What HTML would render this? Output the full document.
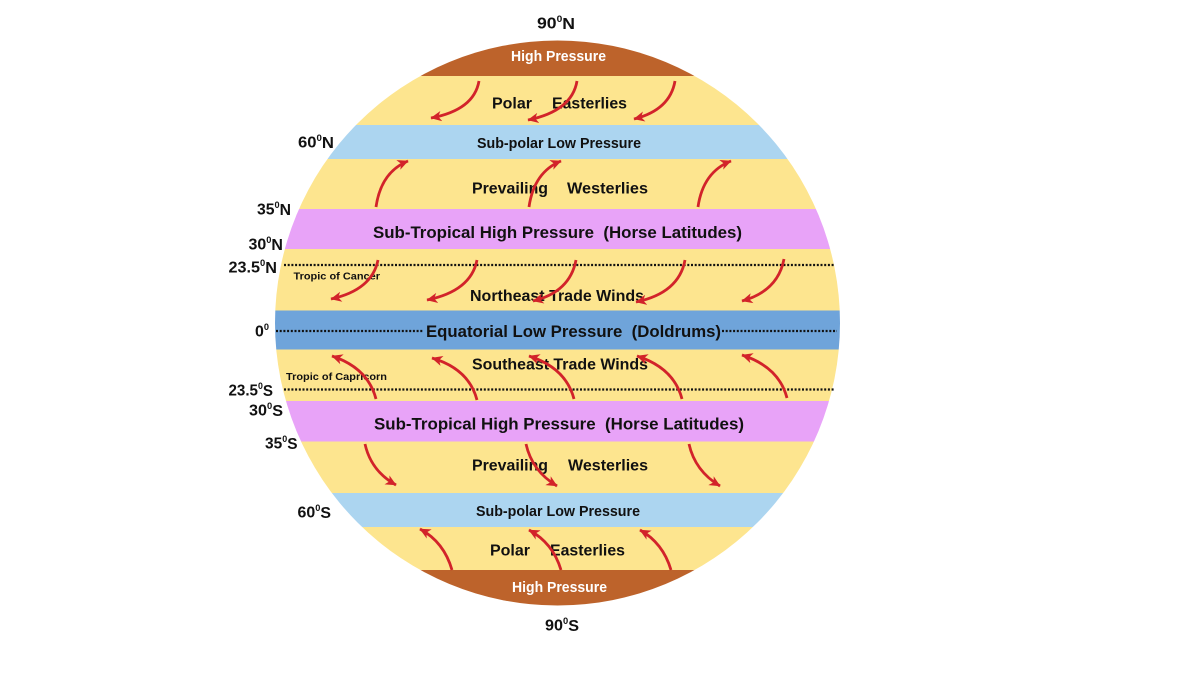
<!DOCTYPE html>
<html>
<head>
<meta charset="utf-8">
<style>
  html, body { margin: 0; padding: 0; background: #ffffff; }
  svg { display: block; }
  text { font-family: "Liberation Sans", "DejaVu Sans", sans-serif; font-weight: bold; }
</style>
</head>
<body>
<svg width="1200" height="675" viewBox="0 0 1200 675" xmlns="http://www.w3.org/2000/svg">
  <defs>
    <clipPath id="globe">
      <circle cx="557.5" cy="323" r="282.5"/>
    </clipPath>
    <marker id="ah" markerUnits="userSpaceOnUse" markerWidth="11" markerHeight="11" viewBox="0 0 10 10" refX="9.5" refY="5" orient="auto">
      <path d="M0,0.3 L10,5 L0,9.7 L2.8,5 z" fill="#d2232a"/>
    </marker>
  </defs>

  <rect x="0" y="0" width="1200" height="675" fill="#ffffff"/>

  <!-- Bands -->
  <g clip-path="url(#globe)">
    <rect x="270" y="30" width="580" height="46" fill="#bd632b"/>
    <rect x="270" y="76" width="580" height="49" fill="#fde58f"/>
    <rect x="270" y="125" width="580" height="34" fill="#acd5f0"/>
    <rect x="270" y="159" width="580" height="50" fill="#fde58f"/>
    <rect x="270" y="209" width="580" height="40" fill="#e8a3f8"/>
    <rect x="270" y="249" width="580" height="61.5" fill="#fde58f"/>
    <rect x="270" y="310.5" width="580" height="39" fill="#6fa4da"/>
    <rect x="270" y="349.5" width="580" height="51.5" fill="#fde58f"/>
    <rect x="270" y="401" width="580" height="40.5" fill="#e8a3f8"/>
    <rect x="270" y="441.5" width="580" height="51.5" fill="#fde58f"/>
    <rect x="270" y="493" width="580" height="34" fill="#acd5f0"/>
    <rect x="270" y="527" width="580" height="43" fill="#fde58f"/>
    <rect x="270" y="570" width="580" height="45" fill="#bd632b"/>
  </g>

  <!-- Dotted lines -->
  <g stroke="#111111" stroke-width="2.2" stroke-dasharray="2 1.7" fill="none">
    <line x1="284" y1="265" x2="834" y2="265"/>
    <line x1="276" y1="331" x2="424" y2="331"/>
    <line x1="722" y1="331" x2="837" y2="331"/>
    <line x1="284" y1="389.5" x2="835" y2="389.5"/>
  </g>

  <!-- Band labels -->
  <g dominant-baseline="central" fill="#111111">
    <text x="511" y="57" font-size="14.5" fill="#ffffff" textLength="95" lengthAdjust="spacingAndGlyphs">High Pressure</text>
    <text x="492" y="104" font-size="16" textLength="40" lengthAdjust="spacingAndGlyphs">Polar</text>
    <text x="552" y="104" font-size="16" textLength="75" lengthAdjust="spacingAndGlyphs">Easterlies</text>
    <text x="477" y="144" font-size="14.3" textLength="164" lengthAdjust="spacingAndGlyphs">Sub-polar Low Pressure</text>
    <text x="472" y="189" font-size="16" textLength="76" lengthAdjust="spacingAndGlyphs">Prevailing</text>
    <text x="567" y="189" font-size="16" textLength="81" lengthAdjust="spacingAndGlyphs">Westerlies</text>
    <text x="373" y="232.5" font-size="16.8" textLength="369" lengthAdjust="spacingAndGlyphs" xml:space="preserve">Sub-Tropical High Pressure  (Horse Latitudes)</text>
    <text x="293.5" y="277" font-size="10" textLength="86.5" lengthAdjust="spacingAndGlyphs">Tropic of Cancer</text>
    <text x="470" y="296.5" font-size="16" textLength="174" lengthAdjust="spacingAndGlyphs">Northeast Trade Winds</text>
    <text x="426" y="331.5" font-size="16.8" textLength="295" lengthAdjust="spacingAndGlyphs" xml:space="preserve">Equatorial Low Pressure  (Doldrums)</text>
    <text x="472" y="365" font-size="16" textLength="176" lengthAdjust="spacingAndGlyphs">Southeast Trade Winds</text>
    <text x="286" y="377" font-size="10.5" textLength="101" lengthAdjust="spacingAndGlyphs">Tropic of Capricorn</text>
    <text x="374" y="424" font-size="16.8" textLength="370" lengthAdjust="spacingAndGlyphs" xml:space="preserve">Sub-Tropical High Pressure  (Horse Latitudes)</text>
    <text x="472" y="466" font-size="16" textLength="76" lengthAdjust="spacingAndGlyphs">Prevailing</text>
    <text x="568" y="466" font-size="16" textLength="80" lengthAdjust="spacingAndGlyphs">Westerlies</text>
    <text x="476" y="512" font-size="14.3" textLength="164" lengthAdjust="spacingAndGlyphs">Sub-polar Low Pressure</text>
    <text x="490" y="551" font-size="16" textLength="40" lengthAdjust="spacingAndGlyphs">Polar</text>
    <text x="550" y="551" font-size="16" textLength="75" lengthAdjust="spacingAndGlyphs">Easterlies</text>
    <text x="512" y="588" font-size="14.5" fill="#ffffff" textLength="95" lengthAdjust="spacingAndGlyphs">High Pressure</text>
  </g>

  <!-- Latitude labels -->
  <g dominant-baseline="central" fill="#111111" font-size="15.5">
    <text x="537" y="24" textLength="38" lengthAdjust="spacingAndGlyphs">90<tspan font-size="9" dy="-5">0</tspan><tspan dy="5">N</tspan></text>
    <text x="298" y="143" textLength="36" lengthAdjust="spacingAndGlyphs">60<tspan font-size="9" dy="-5">0</tspan><tspan dy="5">N</tspan></text>
    <text x="257" y="210" textLength="34" lengthAdjust="spacingAndGlyphs">35<tspan font-size="9" dy="-5">0</tspan><tspan dy="5">N</tspan></text>
    <text x="248.5" y="245" textLength="34.5" lengthAdjust="spacingAndGlyphs">30<tspan font-size="9" dy="-5">0</tspan><tspan dy="5">N</tspan></text>
    <text x="228.5" y="268" textLength="48.5" lengthAdjust="spacingAndGlyphs">23.5<tspan font-size="9" dy="-5">0</tspan><tspan dy="5">N</tspan></text>
    <text x="255" y="332" textLength="14" lengthAdjust="spacingAndGlyphs">0<tspan font-size="9" dy="-5">0</tspan></text>
    <text x="228.5" y="391" textLength="44.5" lengthAdjust="spacingAndGlyphs">23.5<tspan font-size="9" dy="-5">0</tspan><tspan dy="5">S</tspan></text>
    <text x="249" y="411" textLength="34" lengthAdjust="spacingAndGlyphs">30<tspan font-size="9" dy="-5">0</tspan><tspan dy="5">S</tspan></text>
    <text x="265" y="444" textLength="32.5" lengthAdjust="spacingAndGlyphs">35<tspan font-size="9" dy="-5">0</tspan><tspan dy="5">S</tspan></text>
    <text x="297.5" y="513" textLength="33.5" lengthAdjust="spacingAndGlyphs">60<tspan font-size="9" dy="-5">0</tspan><tspan dy="5">S</tspan></text>
    <text x="545" y="626" textLength="34" lengthAdjust="spacingAndGlyphs">90<tspan font-size="9" dy="-5">0</tspan><tspan dy="5">S</tspan></text>
  </g>

  <!-- Arrows -->
  <g stroke="#d2232a" stroke-width="2.8" fill="none" marker-end="url(#ah)" stroke-linecap="butt">
    <!-- North polar easterlies -->
    <path d="M479,81 Q474,110 431,118"/>
    <path d="M577,81 Q572,111 528,120"/>
    <path d="M675,81 Q670,110 634,119"/>
    <!-- North westerlies -->
    <path d="M376,207 Q381,172 408,161"/>
    <path d="M529,207 Q534,172 561,161"/>
    <path d="M698,207 Q703,172 731,161"/>
    <!-- NE trades -->
    <path d="M378,260 Q372,290 331,299"/>
    <path d="M477,260 Q471,291 427,300"/>
    <path d="M576,260 Q570,292 533,301"/>
    <path d="M685,260 Q679,293 636,302"/>
    <path d="M784,259 Q778,291 742,301"/>
    <!-- SE trades -->
    <path d="M376,399 Q368,368 332,356"/>
    <path d="M477,400 Q469,369 432,358"/>
    <path d="M574,399 Q566,368 529,356"/>
    <path d="M682,399 Q674,368 637,356"/>
    <path d="M787,398 Q779,367 742,355"/>
    <!-- South westerlies -->
    <path d="M365,444 Q371,471 396,485"/>
    <path d="M526,444 Q532,471 557,486"/>
    <path d="M689,444 Q695,471 720,486"/>
    <!-- South polar easterlies -->
    <path d="M452,570 Q444,542 420,529"/>
    <path d="M561,570 Q553,543 529,530"/>
    <path d="M671,570 Q663,543 640,530"/>
  </g>
</svg>
</body>
</html>
